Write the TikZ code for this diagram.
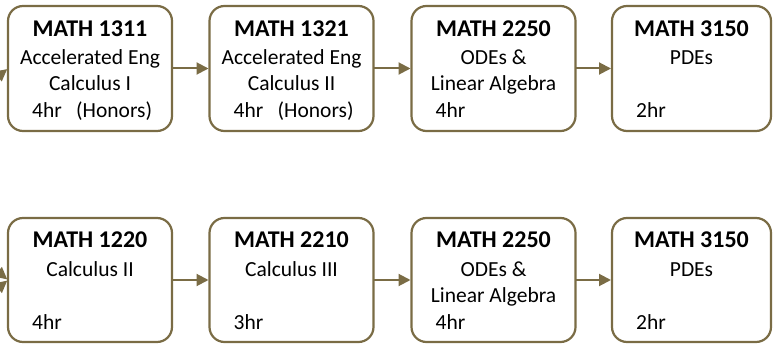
\documentclass[tikz,border=0pt]{standalone}
\usepackage{fontspec}
\setmainfont{Carlito}
\usetikzlibrary{arrows.meta,calc}
\definecolor{olive}{RGB}{122,108,69}
\tikzset{
  course/.style={draw=olive, line width=2.2pt, rounded corners=15pt, fill=white,
    minimum width=164pt, minimum height=125pt, outer sep=0pt, inner sep=0pt},
  conn/.style={draw=olive, line width=2pt, -{Triangle[length=12pt,width=12pt]}, shorten >=1pt},
  title/.style={anchor=base, inner sep=0pt, font=\fontsize{24}{28}\selectfont\bfseries},
  desc/.style={anchor=base, inner sep=0pt, font=\fontsize{21.5}{25}\selectfont},
  hrs/.style={anchor=base west, inner sep=0pt, font=\fontsize{21.5}{25}\selectfont}
}
\newcommand{\coursebox}[6]{%
  \node[course] (#1) at (#2) {};
  \node[title] (#1t) at ($(#1.north)+(0,31)$) {#3};
  \node[desc] (#1a) at ($(#1.north)+(0,59)$) {#4};
  \node[desc] (#1b) at ($(#1.north)+(0,85)$) {#5};
  \node[hrs] (#1h) at ($(#1.north west)+(24,112)$) {#6};
}
\begin{document}
\begin{tikzpicture}[x=1pt,y=-1pt]
\useasboundingbox (0,0) rectangle (773,344);
\clip (0,0) rectangle (773,344);
% top row
\coursebox{a1}{90,68.5}{MATH 1311}{Accelerated Eng}{Calculus I}{\makebox[44pt][l]{4hr}(Honors)}
\coursebox{a2}{291.5,68.5}{MATH 1321}{Accelerated Eng}{Calculus II}{\makebox[44pt][l]{4hr}(Honors)}
\coursebox{a3}{493.5,68.5}{MATH 2250}{ODEs \&}{Linear Algebra}{4hr}
\node[course, minimum width=159pt] (a4) at (691.5,68.5) {};
\node[title] (a4t) at ($(a4.north)+(0,31)$) {MATH 3150};
\node[desc] (a4a) at ($(a4.north)+(0,59)$) {PDEs};
\node[hrs] (a4h) at ($(a4.north west)+(24,112)$) {2hr};
% bottom row
\node[course, minimum height=124pt] (c1) at (90,280) {};
\node[title] (c1t) at ($(c1.north)+(0,30)$) {MATH 1220};
\node[desc] (c1a) at ($(c1.north)+(0,59)$) {Calculus II};
\node[hrs] (c1h) at ($(c1.north west)+(24,112)$) {4hr};
\node[course, minimum height=124pt] (c2) at (291.5,280) {};
\node[title] (c2t) at ($(c2.north)+(0,30)$) {MATH 2210};
\node[desc] (c2a) at ($(c2.north)+(0,59)$) {Calculus III};
\node[hrs] (c2h) at ($(c2.north west)+(24,112)$) {3hr};
\node[course, minimum height=124pt] (c3) at (493.5,280) {};
\node[title] (c3t) at ($(c3.north)+(0,30)$) {MATH 2250};
\node[desc] (c3a) at ($(c3.north)+(0,59)$) {ODEs \&};
\node[desc] (c3b) at ($(c3.north)+(0,85)$) {Linear Algebra};
\node[hrs] (c3h) at ($(c3.north west)+(24,112)$) {4hr};
\node[course, minimum height=124pt, minimum width=159pt] (c4) at (691.5,280) {};
\node[title] (c4t) at ($(c4.north)+(0,30)$) {MATH 3150};
\node[desc] (c4a) at ($(c4.north)+(0,59)$) {PDEs};
\node[hrs] (c4h) at ($(c4.north west)+(24,112)$) {2hr};
% connectors
\draw[conn] (a1.east) -- (a2.west);
\draw[conn] (a2.east) -- (a3.west);
\draw[conn] (a3.east) -- (a4.west);
\draw[conn] (c1.east) -- (c2.west);
\draw[conn] (c2.east) -- (c3.west);
\draw[conn] (c3.east) -- (c4.west);
% incoming stubs from outside the picture
\coordinate (s1) at (-14,86);
\coordinate (s2) at (-14,262);
\coordinate (s3) at (-14,298);
\draw[conn] (s1) -- (a1.west);
\draw[conn] (s2) -- (c1.west);
\draw[conn] (s3) -- (c1.west);
\end{tikzpicture}
\end{document}
